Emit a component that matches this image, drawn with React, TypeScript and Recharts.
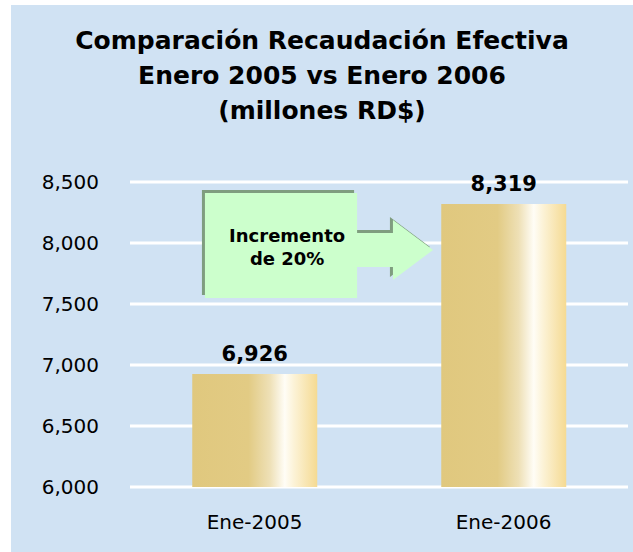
import { Bar, BarChart, CartesianGrid, LabelList, ReferenceArea, XAxis, YAxis } from "recharts";

const categories = ["Ene-2005", "Ene-2006"];
const recaudacion = [6926, 8319];
const yTicks = [6000, 6500, 7000, 7500, 8000, 8500];
const titleLines = ["Comparación Recaudación Efectiva", "Enero 2005 vs Enero 2006", "(millones RD$)"];
const calloutLines = ["Incremento", "de 20%"];
const calloutRange = [7550, 8410];

const data = categories.map((c, i) => ({ name: c, value: recaudacion[i] }));

const FONT = "'DejaVu Sans', Verdana, sans-serif";
const fmt = (v: number) => v.toLocaleString("en-US");

// arrow callout, proportions taken from the band of the first category
function Callout(props: any) {
  const { x, y, width, height } = props;
  const left = x + 0.301 * width;
  const right = x + 0.912 * width;
  const shaftEnd = x + 1.056 * width;
  const tip = x + 1.217 * width;
  const cy = y + 0.543 * height;
  const sh = 0.162 * height;
  const hh = 0.286 * height;
  const pts = (dx: number, dy: number) =>
    [
      [left, y],
      [right, y],
      [right, cy - sh],
      [shaftEnd, cy - sh],
      [shaftEnd, cy - hh],
      [tip, cy],
      [shaftEnd, cy + hh],
      [shaftEnd, cy + sh],
      [right, cy + sh],
      [right, y + height],
      [left, y + height],
    ]
      .map(([px, py]) => `${px + dx},${py + dy}`)
      .join(" ");
  const tx = left + 0.54 * (right - left);
  return (
    <g>
      <polygon points={pts(-3, -3)} fill="#7f9d7f" />
      <polygon points={pts(0, 0)} fill="#ccffcc" />
      {calloutLines.map((t, i) => (
        <text
          key={t}
          x={tx}
          y={y + 49 + i * 23}
          textAnchor="middle"
          fontFamily={FONT}
          fontWeight="bold"
          fontSize={18}
          fill="#000"
        >
          {t}
        </text>
      ))}
    </g>
  );
}

export default function App() {
  return (
    <div style={{ position: "absolute", left: 0, top: 0, width: 633, height: 552, background: "#fff" }}>
      <div style={{ position: "absolute", left: 11, top: 5, right: 0, bottom: 0, background: "#d0e2f3" }} />
      <div
        style={{
          position: "absolute",
          left: 11,
          top: 23,
          width: 622,
          textAlign: "center",
          fontFamily: FONT,
          fontWeight: "bold",
          fontSize: 25,
          lineHeight: "35px",
          color: "#000",
        }}
      >
        {titleLines.map((t) => (
          <div key={t}>{t}</div>
        ))}
      </div>
      <div style={{ position: "absolute", left: 0, top: 0 }}>
        <BarChart
          width={633}
          height={552}
          data={data}
          margin={{ top: 182, right: 5, bottom: 5, left: 0 }}
          barCategoryGap="25%"
        >
          <defs>
            <linearGradient id="gold" x1="0" y1="0" x2="1" y2="0">
              <stop offset="0%" stopColor="#e0c87e" />
              <stop offset="45%" stopColor="#e2cb84" />
              <stop offset="62%" stopColor="#eee0b6" />
              <stop offset="74%" stopColor="#fffdf6" />
              <stop offset="81%" stopColor="#fcf3d8" />
              <stop offset="100%" stopColor="#f5da92" />
            </linearGradient>
          </defs>
          <CartesianGrid vertical={false} stroke="#ffffff" strokeWidth={3} />
          <XAxis
            dataKey="name"
            axisLine={false}
            tickLine={false}
            tickSize={0}
            tickMargin={28}
            height={60}
            tick={{ fill: "#000", fontSize: 20, fontFamily: FONT }}
          />
          <YAxis
            domain={[6000, 8500]}
            ticks={yTicks}
            axisLine={false}
            tickLine={false}
            tickSize={0}
            tickMargin={31}
            width={130}
            tickFormatter={fmt}
            tick={{ fill: "#000", fontSize: 20, fontFamily: FONT }}
          />
          <ReferenceArea
            x1={categories[0]}
            x2={categories[0]}
            y1={calloutRange[0]}
            y2={calloutRange[1]}
            shape={(p: any) => <Callout {...p} />}
          />
          <Bar dataKey="value" fill="url(#gold)" isAnimationActive={false}>
            <LabelList
              dataKey="value"
              position="top"
              offset={13}
              formatter={(v: any) => fmt(Number(v))}
              style={{ fill: "#000", fontSize: 21, fontWeight: "bold", fontFamily: FONT }}
            />
          </Bar>
        </BarChart>
      </div>
    </div>
  );
}
